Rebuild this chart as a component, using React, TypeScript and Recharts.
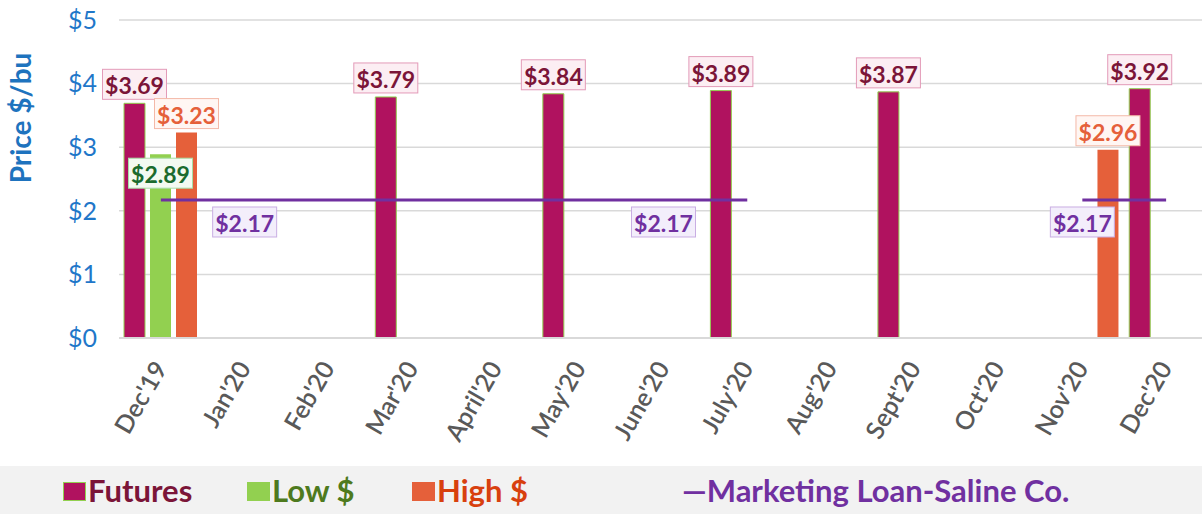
import React from "react";
import {
  ComposedChart,
  Bar,
  Line,
  XAxis,
  YAxis,
  CartesianGrid,
  Legend,
  LabelList,
} from "recharts";

const months = [
  "Dec'19", "Jan'20", "Feb'20", "Mar'20", "April'20", "May'20", "June'20",
  "July'20", "Aug'20", "Sept'20", "Oct'20", "Nov'20", "Dec'20",
];
const futures = [3.69, null, null, 3.79, null, 3.84, null, 3.89, null, 3.87, null, null, 3.92];
const low = [2.89, null, null, null, null, null, null, null, null, null, null, null, null];
const high = [3.23, null, null, null, null, null, null, null, null, null, null, 2.96, null];
const loan = [2.17, 2.17, 2.17, 2.17, 2.17, 2.17, 2.17, 2.17, null, null, null, 2.17, 2.17];
const loanLabelMonths = ["Jan'20", "June'20", "Nov'20"];
const yTicks = [0, 1, 2, 3, 4, 5];

const FONT = "Lato, 'Open Sans', sans-serif";

const C = {
  futures: "#B0125F",
  futuresText: "#7B1538",
  low: "#92D050",
  lowText: "#1B6B2E",
  high: "#E5603A",
  highText: "#E5603A",
  loan: "#7030A0",
  axis: "#1F77C9",
  tick: "#595959",
  grid: "#D9D9D9",
};

const data = months.map((m, i) => ({
  month: m,
  futures: futures[i],
  low: low[i],
  high: high[i],
  loan: loan[i],
}));

const fmt = (v: number) => `$${v.toFixed(2)}`;

// little boxed label, like the excel data callouts
function Box({ cx, top, text, color, fill, stroke }: any) {
  const w = 64;
  const h = 30;
  return (
    <g>
      <rect x={cx - w / 2} y={top} width={w} height={h} fill={fill} stroke={stroke} strokeWidth={1} />
      <text
        x={cx}
        y={top + h / 2 + 1}
        textAnchor="middle"
        dominantBaseline="central"
        fill={color}
        fontFamily={FONT}
        fontWeight={700}
        fontSize={23}
      >
        {text}
      </text>
    </g>
  );
}

const barLabel = (color: string, fill: string, stroke: string, inside = false) => (props: any) => {
  const { x, y, width, value } = props;
  if (value == null) return null;
  const cx = Number(x) + Number(width) / 2;
  const top = inside ? Number(y) + 4 : Number(y) - 4 - 30;
  return <Box cx={cx} top={top} text={fmt(value)} color={color} fill={fill} stroke={stroke} />;
};

const loanLabel = (props: any) => {
  const { x, y, value, index } = props;
  if (value == null || !loanLabelMonths.includes(months[index])) return null;
  return (
    <Box cx={Number(x)} top={Number(y) + 7} text={fmt(value)} color={C.loan} fill="#F3EEFB" stroke="#C9AEE3" />
  );
};

function MonthTick({ x, y, payload }: any) {
  const ax = x + 7;
  const ay = y + 22;
  return (
    <text
      x={ax}
      y={ay}
      transform={`rotate(-60, ${ax}, ${ay})`}
      textAnchor="end"
      fill={C.tick}
      fontFamily={FONT}
      fontWeight={600}
      fontSize={25}
    >
      {payload.value}
    </text>
  );
}

function LegendBar() {
  const sq = (left: number, color: string, border?: string) => (
    <span
      style={{
        position: "absolute",
        left,
        top: 16,
        width: 23,
        height: 19,
        background: color,
        boxSizing: "border-box",
        border: border ? `1px solid ${border}` : "none",
      }}
    />
  );
  const txt = (left: number, color: string, label: string) => (
    <span
      style={{
        position: "absolute",
        left,
        top: 0,
        lineHeight: "48px",
        color,
        fontFamily: FONT,
        fontWeight: 700,
        fontSize: 31,
        whiteSpace: "nowrap",
      }}
    >
      {label}
    </span>
  );
  return (
    <div style={{ position: "relative", width: 1202, height: 48, background: "#F2F2F2" }}>
      {sq(63, C.futures, C.low)}
      {txt(88, "#7B1538", "Futures")}
      {sq(247, C.low)}
      {txt(272, "#4E7A1E", "Low $")}
      {sq(412, C.high)}
      {txt(437, "#D8400E", "High $")}
      {txt(682, C.loan, "—Marketing Loan-Saline Co.")}
    </div>
  );
}

export default function App() {
  return (
    <div style={{ width: 1202, height: 514, overflow: "hidden", position: "relative" }}>
      <style>{`body{margin:0}`}</style>
      <ComposedChart
        width={1208}
        height={514}
        data={data}
        margin={{ top: 20, right: 0, left: 0, bottom: 0 }}
        barSize={21}
        barGap={5}
      >
        <CartesianGrid vertical={false} stroke={C.grid} strokeWidth={1.5} />
        <XAxis
          dataKey="month"
          height={128}
          interval={0}
          tick={<MonthTick />}
          tickLine={false}
          axisLine={{ stroke: C.grid, strokeWidth: 2 }}
        />
        <YAxis
          width={119}
          domain={[0, 5]}
          ticks={yTicks}
          tickFormatter={(v) => `$${v}`}
          tick={{ fill: C.axis, fontSize: 25, fontFamily: FONT }}
          tickLine={false}
          tickSize={0}
          tickMargin={22}
          axisLine={false}
          label={{
            content: () => (
              <text
                x={31}
                y={118}
                transform="rotate(-90, 31, 118)"
                textAnchor="middle"
                fill="#1E73BE"
                fontFamily={FONT}
                fontWeight={700}
                fontSize={28}
              >
                Price $/bu
              </text>
            ),
          }}
        />
        <Bar dataKey="futures" fill={C.futures} stroke={C.low} strokeWidth={1} isAnimationActive={false}>
          <LabelList dataKey="futures" content={barLabel(C.futuresText, "#FCEEF3", "#E39BB8")} />
        </Bar>
        <Bar dataKey="low" fill={C.low} isAnimationActive={false}>
          <LabelList dataKey="low" content={barLabel(C.lowText, "#F3FAF1", "#A6DFA6", true)} />
        </Bar>
        <Bar dataKey="high" fill={C.high} isAnimationActive={false}>
          <LabelList dataKey="high" content={barLabel(C.highText, "#FFF6F3", "#F4B9A8")} />
        </Bar>
        <Line
          dataKey="loan"
          stroke={C.loan}
          strokeWidth={3}
          dot={false}
          activeDot={false}
          connectNulls={false}
          isAnimationActive={false}
        >
          <LabelList dataKey="loan" content={loanLabel} />
        </Line>
        <Legend
          verticalAlign="bottom"
          content={() => <LegendBar />}
          wrapperStyle={{ left: 0, bottom: 0, width: 1202, height: 48 }}
        />
      </ComposedChart>
    </div>
  );
}
